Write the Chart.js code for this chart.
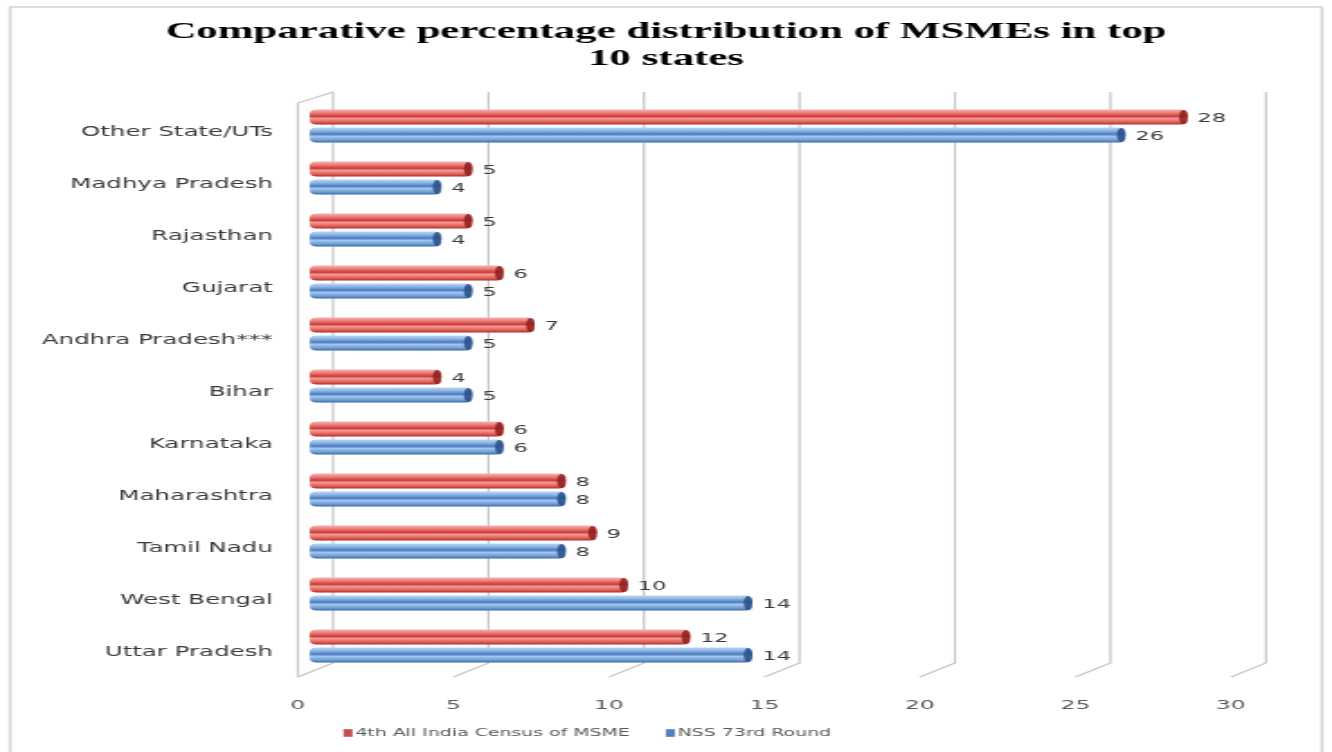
<!DOCTYPE html>
<html><head><meta charset="utf-8">
<script src="https://cdn.jsdelivr.net/npm/chart.js@4.4.1/dist/chart.umd.min.js"></script>
<style>
html,body{margin:0;padding:0;background:#fff;overflow:hidden;}
#wrap{position:absolute;left:0;top:0;width:740px;height:752px;transform:scaleX(1.8);transform-origin:0 0;}
</style></head><body>
<div id="wrap"><canvas id="c"></canvas></div>
<script>
// ---- data (first category is drawn at the bottom) ----
const categories = ['Uttar Pradesh','West Bengal','Tamil Nadu','Maharashtra','Karnataka','Bihar','Andhra Pradesh***','Gujarat','Rajasthan','Madhya Pradesh','Other State/UTs'];
const censusValues = [12,10,9,8,6,4,7,6,5,5,28];
const nssValues    = [14,14,8,8,6,5,5,5,4,4,26];
const seriesNames  = ['4th All India Census of MSME','NSS 73rd Round'];
const xTicks = [0,5,10,15,20,25,30];
const titleLines = ['Comparative percentage distribution of MSMEs in top','10 states'];

// ---- styling ----
const CAT_PCT = 0.69, BAR_PCT = 0.83;
const BACK = 8.9, FRONT = -10.6;      // 3D wall offsets (internal px)
const RIGHT_GAP = 45.6;
const redStops  = [[0,'#f6b3b0'],[0.22,'#ec7d78'],[0.45,'#cc3b37'],[0.6,'#f29893'],[0.85,'#e05a55'],[1,'#b02c29']];
const blueStops = [[0,'#bcd5f2'],[0.22,'#8db5e6'],[0.45,'#4a7cbd'],[0.6,'#a4c5ee'],[0.85,'#6d9bd6'],[1,'#3a67a6']];
const legendColors = ['#c0504d','#4f81bd'];
const capColors = ['#8a1f1d','#284c82'];

function barGrad(ctx, stops, fallback){
  const chart = ctx.chart;
  if (ctx.type !== 'data' || !chart.chartArea || !chart.scales.y) return fallback;
  const ys = chart.scales.y;
  const spacing = Math.abs(ys.getPixelForValue(1) - ys.getPixelForValue(0));
  const chunk = spacing * CAT_PCT / 2;
  const th = chunk * BAR_PCT;
  const c = ys.getPixelForValue(ctx.dataIndex) + (ctx.datasetIndex === 0 ? -chunk/2 : chunk/2);
  const g = chart.ctx.createLinearGradient(0, c - th/2, 0, c + th/2);
  stops.forEach(s => g.addColorStop(s[0], s[1]));
  return g;
}

const deco = {
  id: 'deco',
  beforeDraw(chart){
    const ctx = chart.ctx;
    ctx.save();
    ctx.strokeStyle = '#d2d2d2';
    ctx.lineWidth = 1.5;
    ctx.strokeRect(5.6, 7, 728.8, 800);
    ctx.restore();
  },
  beforeDatasetsDraw(chart){
    const ctx = chart.ctx, xs = chart.scales.x;
    const top = 92, bot = 663, fbot = 677;
    ctx.save();
    ctx.strokeStyle = '#c4c4c4';
    ctx.lineWidth = 1.2;
    xTicks.forEach(v => {
      const p = xs.getPixelForValue(v);
      ctx.beginPath();
      ctx.moveTo(p + BACK, top);
      ctx.lineTo(p + BACK, bot);
      ctx.lineTo(p + FRONT, fbot);
      ctx.stroke();
    });
    const p0 = xs.getPixelForValue(0);
    ctx.beginPath();
    ctx.moveTo(p0 + BACK, top);
    ctx.lineTo(p0 + FRONT, 103);
    ctx.lineTo(p0 + FRONT, fbot);
    ctx.stroke();
    // rounded starts of the bars
    chart.data.datasets.forEach((ds, i) => {
      chart.getDatasetMeta(i).data.forEach(el => {
        const pr = el.getProps(['x','y','base','height'], true);
        ctx.fillStyle = el.options.backgroundColor;
        ctx.beginPath();
        ctx.roundRect(pr.base - 4, pr.y - pr.height/2, 10, pr.height, 4);
        ctx.fill();
      });
    });
    ctx.restore();
  },
  afterDatasetsDraw(chart){
    const ctx = chart.ctx;
    ctx.save();
    chart.data.datasets.forEach((ds, i) => {
      chart.getDatasetMeta(i).data.forEach((el, j) => {
        const pr = el.getProps(['x','y','base','height'], true);
        ctx.fillStyle = capColors[i];
        ctx.globalAlpha = 0.85;
        ctx.beginPath();
        ctx.ellipse(pr.x - 2.4, pr.y, 2.4, pr.height/2 - 0.5, 0, 0, Math.PI*2);
        ctx.fill();
        ctx.globalAlpha = 1;
        ctx.fillStyle = '#3a3a3a';
        ctx.font = '12.5px "DejaVu Sans"';
        ctx.textAlign = 'left';
        ctx.textBaseline = 'middle';
        ctx.fillText(String(ds.data[j]), pr.x + 5.5, pr.y + 2);
      });
    });
    // legend
    ctx.font = '10.5px "DejaVu Sans"';
    ctx.textBaseline = 'middle';
    let x = 190.8;
    const y = 733;
    chart.data.datasets.forEach((ds, i) => {
      ctx.fillStyle = legendColors[i];
      ctx.fillRect(x, y - 3.8, 5, 7.6);
      ctx.fillStyle = '#595959';
      ctx.fillText(ds.label, x + 6.6, y);
      x += 6.6 + ctx.measureText(ds.label).width + 20;
    });
    ctx.restore();
  }
};

new Chart(document.getElementById('c'), {
  type: 'bar',
  data: {
    labels: categories,
    datasets: [
      { label: seriesNames[0], data: censusValues,
        backgroundColor: ctx => barGrad(ctx, redStops, legendColors[0]) },
      { label: seriesNames[1], data: nssValues,
        backgroundColor: ctx => barGrad(ctx, blueStops, legendColors[1]) }
    ]
  },
  options: {
    indexAxis: 'y',
    responsive: true,
    maintainAspectRatio: false,
    animation: false,
    events: [],
    datasets: { bar: { categoryPercentage: CAT_PCT, barPercentage: BAR_PCT, borderRadius: 4, borderSkipped: false, borderWidth: 0 } },
    layout: { padding: { left: 0, right: 0, top: 0, bottom: 40 } },
    plugins: {
      legend: { display: false },
      tooltip: { enabled: false },
      title: {
        display: true,
        text: titleLines,
        color: '#000',
        font: { family: '"Liberation Serif"', size: 23.8, weight: 'bold', lineHeight: 1.134 },
        padding: { top: 18.5, bottom: 27.5 }
      }
    },
    scales: {
      x: {
        type: 'linear', min: 0, max: 30,
        grid: { display: false },
        border: { display: false },
        ticks: { stepSize: 5, padding: 18, labelOffset: FRONT, color: '#595959', font: { family: '"DejaVu Sans"', size: 13 } },
        afterFit: s => { s.height = 40; s.paddingLeft = 0; s.paddingRight = RIGHT_GAP; }
      },
      y: {
        reverse: true,
        grid: { display: false },
        border: { display: false },
        ticks: { padding: 16.5, labelOffset: 6, color: '#3a3a3a', font: { family: '"DejaVu Sans"', size: 13.6 } },
        afterFit: s => { s.width = 176.1; s.paddingTop = 0; s.paddingBottom = 0; }
      }
    }
  },
  plugins: [deco]
});
</script>
</body></html>
